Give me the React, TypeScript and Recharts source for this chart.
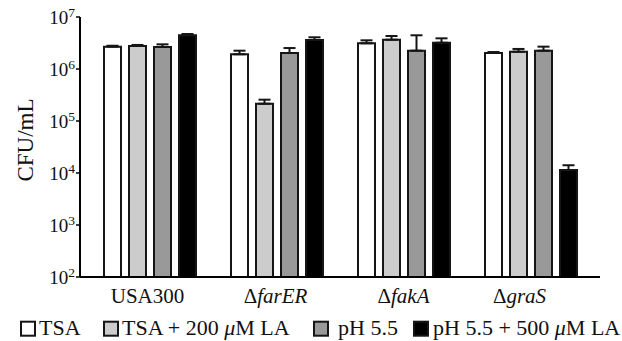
import React from 'react';
import { BarChart, Bar, XAxis, YAxis, ErrorBar, Legend } from 'recharts';

const strains = ['USA300', 'ΔfarER', 'ΔfakA', 'ΔgraS'];

const tsa = [2.69e6, 1.92e6, 3.12e6, 2.03e6];
const tsaTop = [2.8e6, 2.25e6, 3.56e6, 2.12e6];
const tsaLA = [2.77e6, 2.15e5, 3.66e6, 2.15e6];
const tsaLATop = [2.9e6, 2.57e5, 4.31e6, 2.43e6];
const ph = [2.65e6, 2.03e6, 2.25e6, 2.25e6];
const phTop = [2.98e6, 2.53e6, 4.45e6, 2.69e6];
const phLA = [4.45e6, 3.61e6, 3.2e6, 1.14e4];
const phLATop = [4.71e6, 4.07e6, 3.89e6, 1.41e4];

const yTicks = [1e2, 1e3, 1e4, 1e5, 1e6, 1e7];

const seriesNames = ['TSA', 'TSA + 200 μM LA', 'pH 5.5', 'pH 5.5 + 500 μM LA'];
const seriesColors = ['#ffffff', '#cccccc', '#999999', '#000000'];

const data = strains.map((s, i) => ({
  strain: s,
  tsa: tsa[i],
  tsaErr: [0, tsaTop[i] - tsa[i]],
  tsaLA: tsaLA[i],
  tsaLAErr: [0, tsaLATop[i] - tsaLA[i]],
  ph: ph[i],
  phErr: [0, phTop[i] - ph[i]],
  phLA: phLA[i],
  phLAErr: [0, phLATop[i] - phLA[i]],
}));

const FONT = '"Liberation Serif", "Times New Roman", serif';
const EDGE = '#151515';

const labelShift: Record<string, number> = { ΔgraS: -11, USA300: -2, ΔfarER: -1 };

const XTick = (props: any) => {
  const { x, y, payload } = props;
  const v: string = payload.value;
  const dx = labelShift[v] || 0;
  if (v.startsWith('Δ')) {
    return (
      <text x={x + dx} y={y + 26} textAnchor="middle" fontFamily={FONT} fontSize={21} fill="#111">
        <tspan>Δ</tspan>
        <tspan fontStyle="italic">{v.slice(1)}</tspan>
      </text>
    );
  }
  return (
    <text x={x + dx} y={y + 26} textAnchor="middle" fontFamily={FONT} fontSize={21} fill="#111">
      {v}
    </text>
  );
};

const YTick = (props: any) => {
  const { x, y, payload } = props;
  const exp = Math.round(Math.log10(payload.value));
  return (
    <text x={x} y={y + 7} textAnchor="end" fontFamily={FONT} fontSize={19} fill="#111">
      <tspan>10</tspan>
      <tspan dy={-7} fontSize={13.5}>{exp}</tspan>
    </text>
  );
};

const YLabel = () => (
  <text
    x={33}
    y={140}
    transform="rotate(-90, 33, 140)"
    textAnchor="middle"
    fontFamily={FONT}
    fontSize={23}
    fill="#111"
  >
    CFU/mL
  </text>
);

const boxX = [21, 104, 314, 414];
const textX = [39, 122, 338, 433];

const LegendContent = () => (
  <svg width={622} height={34} style={{ display: 'block' }}>
    {seriesNames.map((n, i) => {
      const parts = n.split('μ');
      return (
        <g key={n}>
          <rect x={boxX[i]} y={14.7} width={14} height={14} fill={seriesColors[i]} stroke={EDGE} strokeWidth={2} />
          <text x={textX[i]} y={28} fontFamily={FONT} fontSize={22} fill="#111">
            {parts.length > 1 ? (
              <>
                <tspan>{parts[0]}</tspan>
                <tspan fontStyle="italic">μ</tspan>
                <tspan>{parts[1]}</tspan>
              </>
            ) : (
              n
            )}
          </text>
        </g>
      );
    })}
  </svg>
);

export default function App() {
  const keys = ['tsa', 'tsaLA', 'ph', 'phLA'];
  return (
    <div style={{ position: 'absolute', left: 0, top: 0, width: 622, height: 341, background: '#fff' }}>
      <BarChart
        width={622}
        height={341}
        data={data}
        margin={{ top: 17, right: 22, left: 0, bottom: 0 }}
        barSize={17}
        barGap={8}
      >
        <XAxis
          dataKey="strain"
          height={30}
          tickLine={false}
          tickSize={0}
          tickMargin={0}
          axisLine={{ stroke: '#000', strokeWidth: 2 }}
          padding={{ left: 6, right: 6 }}
          tick={<XTick />}
          interval={0}
        />
        <YAxis
          scale="log"
          domain={[100, 1e7]}
          ticks={yTicks}
          type="number"
          allowDataOverflow
          width={80}
          tickSize={4}
          tickMargin={1}
          tickLine={{ stroke: '#000', strokeWidth: 1.5 }}
          axisLine={{ stroke: '#000', strokeWidth: 2 }}
          tick={<YTick />}
          interval={0}
          label={<YLabel />}
        />
        <Legend
          verticalAlign="bottom"
          height={34}
          wrapperStyle={{ left: 0, width: 622 }}
          content={<LegendContent />}
        />
        {keys.map((k, i) => (
          <Bar
            key={k}
            dataKey={k}
            name={seriesNames[i]}
            fill={seriesColors[i]}
            stroke={EDGE}
            strokeWidth={2}
            isAnimationActive={false}
          >
            <ErrorBar dataKey={k + 'Err'} width={6} stroke={EDGE} strokeWidth={2} isAnimationActive={false} />
          </Bar>
        ))}
      </BarChart>
    </div>
  );
}
